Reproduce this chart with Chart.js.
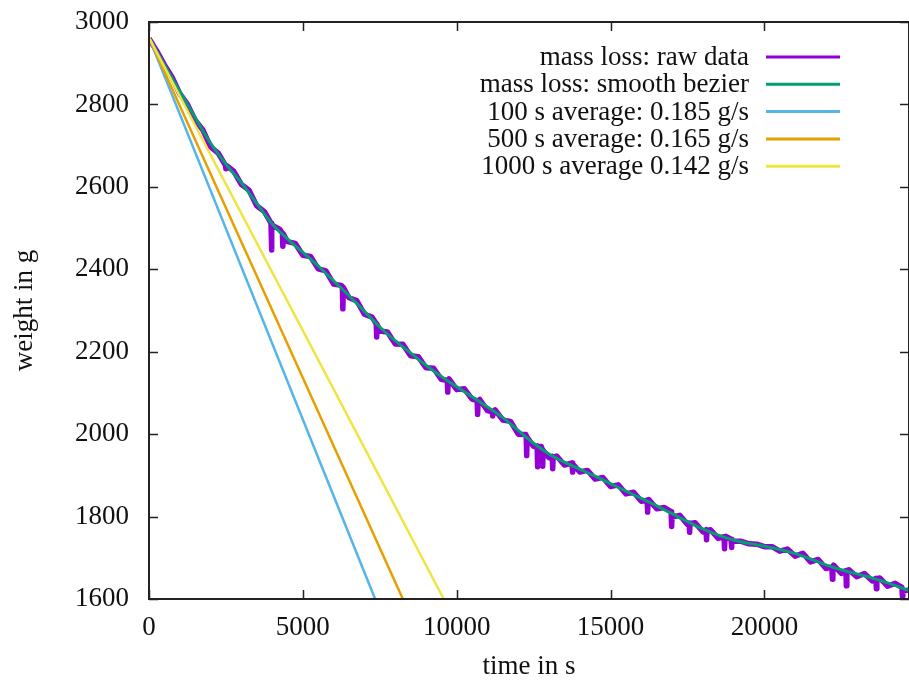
<!DOCTYPE html>
<html>
<head>
<meta charset="utf-8">
<script src="https://cdn.jsdelivr.net/npm/chart.js@4/dist/chart.umd.min.js"></script>
<style>
  html, body { margin: 0; padding: 0; background: #fff; }
  #massChart { display: block; }
</style>
</head>
<body>
<canvas id="massChart" width="909" height="680"></canvas>
<script>
// mass loss over time — raw readings, bezier smoothing and three average-rate lines

const xTicks = [0, 5000, 10000, 15000, 20000];
const yTicks = [1600, 1800, 2000, 2200, 2400, 2600, 2800, 3000];

// raw scale readings [time s, weight g]
const rawData = [
  [0,2960],[250,2930],[500,2896],[750,2866],[1000,2826],[1250,2800],[1500,2762],[1750,2738],
  [2000,2697],[2250,2682],[2485,2652],[2500,2644],[2515,2652],[2750,2638],[3000,2606],[3250,2592],
  [3500,2554],[3750,2540],[3965,2512],[3980,2447],[3995,2508],[4250,2497],[4335,2487],[4350,2456],
  [4365,2486],[4500,2467],[4750,2463],[5000,2434],[5250,2431],[5500,2401],[5750,2396],[6000,2364],
  [6250,2361],[6285,2357],[6300,2304],[6315,2356],[6500,2331],[6750,2324],[7000,2291],[7250,2284],
  [7385,2268],[7400,2236],[7415,2266],[7500,2250],[7750,2248],[8000,2219],[8250,2218],[8500,2190],
  [8750,2188],[9000,2161],[9250,2160],[9500,2133],[9695,2130],[9710,2102],[9725,2129],[9750,2134],
  [10000,2108],[10250,2110],[10500,2085],[10665,2081],[10680,2048],[10695,2080],[10750,2084],[11000,2057],
  [11155,2054],[11170,2044],[11185,2053],[11250,2059],[11500,2034],[11750,2031],[12000,2000],[12250,1999],
  [12260,1993],[12275,1948],[12290,1992],[12500,1970],[12615,1971],[12630,1921],[12645,1968],[12750,1970],
  [12780,1962],[12795,1922],[12810,1960],[13000,1943],[13105,1946],[13120,1916],[13135,1944],[13250,1947],
  [13500,1925],[13750,1930],[13767,1908],[13782,1927],[14000,1908],[14250,1912],[14500,1891],[14750,1895],
  [15000,1873],[15250,1877],[15500,1855],[15750,1859],[16000,1837],[16190,1840],[16205,1811],[16220,1838],
  [16250,1841],[16500,1819],[16750,1822],[16970,1812],[16985,1776],[17000,1799],[17250,1803],[17500,1781],
  [17555,1784],[17570,1762],[17585,1783],[17750,1785],[18000,1763],[18105,1768],[18120,1744],[18135,1766],
  [18250,1768],[18500,1747],[18690,1751],[18705,1722],[18720,1750],[18750,1752],[18915,1745],[18930,1725],
  [18945,1744],[19000,1740],[19250,1740],[19500,1734],[19750,1733],[20000,1727],[20250,1727],[20500,1716],
  [20750,1721],[21000,1704],[21250,1711],[21500,1690],[21750,1696],[22000,1674],[22195,1678],[22210,1648],
  [22225,1677],[22250,1682],[22500,1662],[22650,1669],[22665,1632],[22680,1668],[22750,1671],[23000,1654],
  [23250,1662],[23500,1644],[23625,1650],[23640,1625],[23655,1649],[23750,1651],[24000,1631],[24250,1638],
  [24470,1628],[24485,1607],[24500,1619],[24700,1622]
];

// smooth bezier curve through the readings
const smoothTime = [0,500,1000,1500,2000,2500,3000,3500,4000,4500,5000,5500,6000,6500,7000,7500,8000,
  8500,9000,9500,10000,10500,11000,11500,12000,12500,13000,13500,14000,14500,15000,15500,16000,16500,
  17000,17500,18000,18500,19000,19500,20000,20500,21000,21500,22000,22500,23000,23500,24000,24500,24700];
const smoothWeight = [2962,2896,2832,2768,2706,2655,2610,2560,2510,2474,2441,2408,2372,2336,2298,2260,2227,
  2197,2167,2140,2115,2091,2066,2040,2009,1978,1952,1932,1915,1898,1880,1862,1844,1826,
  1807,1788,1770,1755,1743,1735,1728,1720,1710,1697,1683,1671,1661,1651,1639,1626,1620];

// average-rate lines: start and end point [time, weight]
const avg100 = [[0, 2962], [7350, 1600]];
const avg500 = [[0, 2962], [8250, 1600]];
const avg1000 = [[0, 2962], [9580, 1600]];

const seriesLabels = [
  "mass loss: raw data",
  "mass loss: smooth bezier",
  "100 s average: 0.185 g/s",
  "500 s average: 0.165 g/s",
  "1000 s average 0.142 g/s"
];
const seriesColors = ["#9400d3", "#009e73", "#56b4e9", "#e69f00", "#f0e442"];

const FONT = "'Liberation Serif', 'Times New Roman', serif";
const FSIZE = 27;
const TEXT = "#111";

const toXY = pairs => pairs.map(p => ({ x: p[0], y: p[1] }));

// gnuplot-style frame with inward ticks on all four sides, plus the key
const framePlugin = {
  id: "gnuFrame",
  afterDraw(chart) {
    const { ctx, chartArea: a, scales } = chart;
    ctx.save();
    ctx.strokeStyle = "#222";
    ctx.lineWidth = 2;
    ctx.strokeRect(a.left, a.top, a.right - a.left, a.bottom - a.top);
    ctx.lineWidth = 1.5;
    ctx.beginPath();
    const len = 9;
    xTicks.forEach(v => {
      const px = Math.round(scales.x.getPixelForValue(v)) + 0.5;
      ctx.moveTo(px, a.bottom); ctx.lineTo(px, a.bottom - len);
      ctx.moveTo(px, a.top); ctx.lineTo(px, a.top + len);
    });
    yTicks.forEach(v => {
      const py = Math.round(scales.y.getPixelForValue(v)) + 0.5;
      ctx.moveTo(a.left, py); ctx.lineTo(a.left + len, py);
      ctx.moveTo(a.right, py); ctx.lineTo(a.right - len, py);
    });
    ctx.stroke();

    // key: right-aligned text, sample line to the right
    ctx.font = FSIZE + "px " + FONT;
    ctx.textAlign = "right";
    ctx.textBaseline = "middle";
    chart.data.datasets.forEach((ds, i) => {
      const y = 57 + i * 27.3;
      ctx.fillStyle = TEXT;
      ctx.fillText(ds.label, 749, y + 1);
      ctx.strokeStyle = ds.borderColor;
      ctx.lineWidth = 3;
      ctx.beginPath();
      ctx.moveTo(766, y); ctx.lineTo(840, y);
      ctx.stroke();
    });
    ctx.restore();
  }
};

const lineDs = (i, data, width, order, extra) => Object.assign({
  label: seriesLabels[i],
  data,
  borderColor: seriesColors[i],
  backgroundColor: seriesColors[i],
  borderWidth: width,
  showLine: true,
  pointRadius: 0,
  fill: false,
  order
}, extra || {});

new Chart(document.getElementById("massChart"), {
  type: "scatter",
  data: {
    datasets: [
      lineDs(0, toXY(rawData), 5.5, 5, { tension: 0, borderJoinStyle: "round" }),
      lineDs(1, smoothTime.map((t, i) => ({ x: t, y: smoothWeight[i] })), 3, 4, { cubicInterpolationMode: "monotone" }),
      lineDs(2, toXY(avg100), 2.5, 3),
      lineDs(3, toXY(avg500), 2.5, 2),
      lineDs(4, toXY(avg1000), 2.5, 1)
    ]
  },
  options: {
    responsive: false,
    animation: false,
    devicePixelRatio: 1,
    layout: { padding: { top: 22, left: 0, right: 0, bottom: 0 } },
    plugins: {
      legend: { display: false },
      tooltip: { enabled: false }
    },
    scales: {
      x: {
        type: "linear",
        min: 0,
        max: 24700,
        afterBuildTicks: s => { s.ticks = xTicks.map(v => ({ value: v })); },
        afterFit: s => { s.height = 81; },
        grid: { display: false },
        border: { display: false },
        ticks: { color: TEXT, font: { family: FONT, size: FSIZE }, padding: 5, maxRotation: 0, callback: v => String(v) },
        title: {
          display: true, text: "time in s", color: TEXT,
          font: { family: FONT, size: FSIZE, lineHeight: 1 }, padding: { top: 0, bottom: 0 }
        }
      },
      y: {
        type: "linear",
        min: 1600,
        max: 3000,
        afterBuildTicks: s => { s.ticks = yTicks.map(v => ({ value: v })); },
        afterFit: s => { s.width = 149; },
        grid: { display: false },
        border: { display: false },
        ticks: { color: TEXT, font: { family: FONT, size: FSIZE, lineHeight: 0.5 }, padding: 12, callback: v => String(v) },
        title: {
          display: true, text: "weight in g", color: TEXT,
          font: { family: FONT, size: FSIZE, lineHeight: 1 }, padding: { top: 11, bottom: 0 }
        }
      }
    }
  },
  plugins: [framePlugin]
});
</script>
</body>
</html>
